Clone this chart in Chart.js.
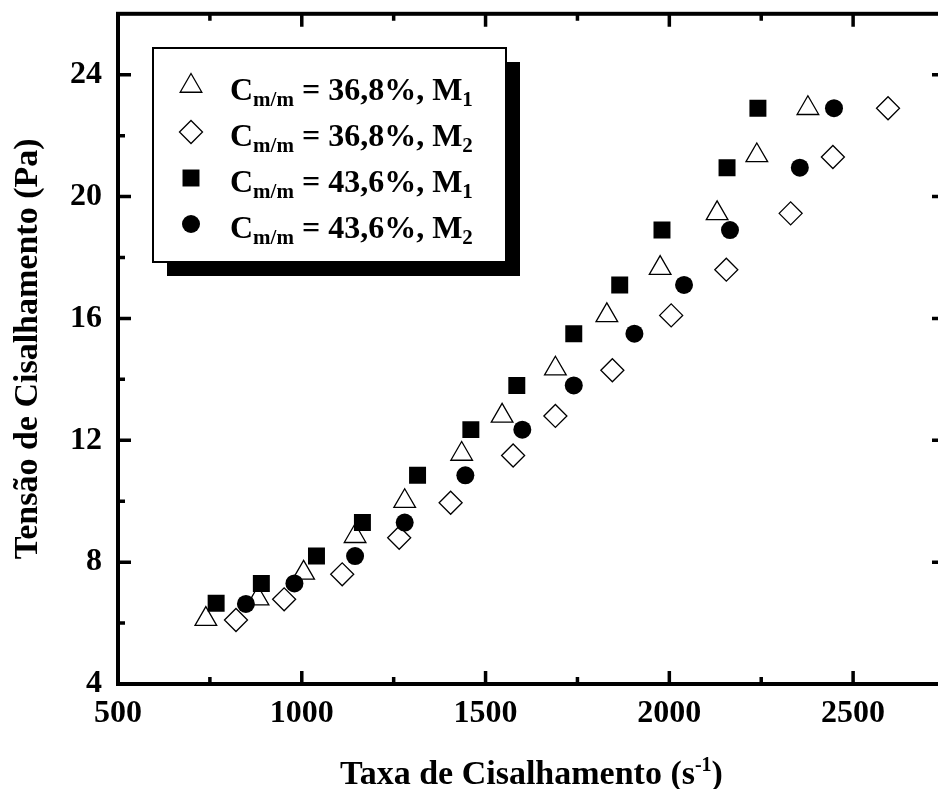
<!DOCTYPE html>
<html>
<head>
<meta charset="utf-8">
<script src="https://cdn.jsdelivr.net/npm/chart.js@4/dist/chart.umd.min.js"></script>
<style>
  html, body { margin: 0; padding: 0; background: #fff; overflow: hidden; }
  #wrap { position: relative; width: 960px; height: 789px; }
</style>
</head>
<body>
<div id="wrap"><canvas id="chart" width="960" height="789"></canvas></div>
<script>
// Shear rate (s-1) and shear stress (Pa)
const triX = [739, 881, 1005, 1145, 1280, 1435, 1545, 1690, 1830, 1975, 2130, 2238, 2377];
const triY = [6.13, 6.8, 7.65, 8.85, 10.0, 11.55, 12.8, 14.35, 16.1, 17.65, 19.45, 21.35, 22.9];
const diaX = [821, 952, 1110, 1265, 1405, 1575, 1690, 1845, 2005, 2155, 2330, 2445, 2595];
const diaY = [6.1, 6.78, 7.6, 8.8, 9.95, 11.5, 12.8, 14.3, 16.1, 17.6, 19.45, 21.3, 22.9];
const sqX = [767, 890, 1040, 1165, 1315, 1460, 1585, 1740, 1865, 1980, 2157, 2241];
const sqY = [6.65, 7.3, 8.2, 9.3, 10.85, 12.35, 13.8, 15.5, 17.1, 18.9, 20.95, 22.9];
const circX = [848, 980, 1145, 1280, 1445, 1600, 1740, 1905, 2040, 2165, 2355, 2448];
const circY = [6.63, 7.3, 8.2, 9.3, 10.85, 12.35, 13.8, 15.5, 17.1, 18.9, 20.95, 22.9];

const legendConc = ['36,8%', '36,8%', '43,6%', '43,6%'];
const legendMethod = ['1', '2', '1', '2'];

const xTicks = [500, 1000, 1500, 2000, 2500];
const xMinor = [750, 1250, 1750, 2250];
const yTicks = [4, 8, 12, 16, 20, 24];
const yMinor = [6, 10, 14, 18, 22];

const FONT = '"Liberation Serif", "Times New Roman", serif';

function pts(xs, ys) {
  return xs.map((v, i) => ({ x: v, y: ys[i] }));
}

const styles = [
  { pointStyle: 'triangle', radius: 12.5, fill: 'rgba(0,0,0,0)', border: 1.3 },
  { pointStyle: 'rectRot', radius: 11.5, fill: 'rgba(0,0,0,0)', border: 1.3 },
  { pointStyle: 'rect', radius: 12, fill: '#000', border: 0 },
  { pointStyle: 'circle', radius: 9, fill: '#000', border: 0 }
];
const series = [pts(triX, triY), pts(diaX, diaY), pts(sqX, sqY), pts(circX, circY)];

// draw text pieces one after another (for sub/superscripts)
function richWidth(ctx, parts) {
  let w = 0;
  parts.forEach(p => {
    ctx.font = 'bold ' + p.size + 'px ' + FONT;
    w += ctx.measureText(p.t).width;
  });
  return w;
}
function drawRich(ctx, parts, x, y) {
  parts.forEach(p => {
    ctx.font = 'bold ' + p.size + 'px ' + FONT;
    ctx.fillText(p.t, x, y + (p.dy || 0));
    x += ctx.measureText(p.t).width;
  });
}

const frameAndTicks = {
  id: 'frameAndTicks',
  beforeDatasetsDraw(chart) {
    const { ctx, chartArea: a, scales: { x, y } } = chart;
    ctx.save();
    ctx.strokeStyle = '#000';
    ctx.lineWidth = 4;
    ctx.strokeRect(a.left, a.top, a.right - a.left, a.bottom - a.top);

    ctx.lineWidth = 3.5;
    ctx.beginPath();
    const xt = (vals, len) => vals.forEach(v => {
      const px = x.getPixelForValue(v);
      ctx.moveTo(px, a.bottom); ctx.lineTo(px, a.bottom - len);
      ctx.moveTo(px, a.top); ctx.lineTo(px, a.top + len);
    });
    const yt = (vals, len) => vals.forEach(v => {
      const py = y.getPixelForValue(v);
      ctx.moveTo(a.left, py); ctx.lineTo(a.left + len, py);
      ctx.moveTo(a.right, py); ctx.lineTo(a.right - len, py);
    });
    xt(xTicks, 13); xt(xMinor, 7);
    yt(yTicks, 13); yt(yMinor, 7);
    ctx.stroke();
    ctx.restore();
  },
  afterDraw(chart) {
    const { ctx, chartArea: a } = chart;
    ctx.save();
    ctx.fillStyle = '#000';
    ctx.textBaseline = 'alphabetic';
    ctx.textAlign = 'left';

    // x title with superscript
    const xParts = [
      { t: 'Taxa de Cisalhamento (s', size: 34 },
      { t: '-1', size: 20, dy: -13 },
      { t: ')', size: 34 }
    ];
    const xw = richWidth(ctx, xParts);
    drawRich(ctx, xParts, (a.left + a.right) / 2 - xw / 2, 784);

    // y title
    ctx.save();
    ctx.translate(37, (a.top + a.bottom) / 2);
    ctx.rotate(-Math.PI / 2);
    ctx.textAlign = 'center';
    ctx.font = 'bold 34px ' + FONT;
    ctx.fillText('Tensão de Cisalhamento (Pa)', 0, 0);
    ctx.restore();

    // legend box with shadow
    const bx = 153, by = 48, bw = 353, bh = 214;
    ctx.fillStyle = '#000';
    ctx.fillRect(bx + 14, by + 14, bw, bh);
    ctx.fillStyle = '#fff';
    ctx.fillRect(bx, by, bw, bh);
    ctx.strokeStyle = '#000';
    ctx.lineWidth = 2;
    ctx.strokeRect(bx, by, bw, bh);

    const help = (window.Chart && Chart.helpers) || {};
    styles.forEach((s, i) => {
      const base = 100 + i * 46;
      ctx.fillStyle = s.fill;
      ctx.strokeStyle = '#000';
      ctx.lineWidth = s.border || 1;
      if (help.drawPoint) {
        help.drawPoint(ctx, { pointStyle: s.pointStyle, radius: s.radius, rotation: 0, borderWidth: s.border }, 191, base - 14);
      }
      ctx.fillStyle = '#000';
      drawRich(ctx, [
        { t: 'C', size: 32 },
        { t: 'm/m', size: 21, dy: 6 },
        { t: ' = ' + legendConc[i] + ', M', size: 32 },
        { t: legendMethod[i], size: 21, dy: 6 }
      ], 230, base);
    });
    ctx.restore();
  }
};

new Chart(document.getElementById('chart'), {
  type: 'scatter',
  data: {
    datasets: series.map((d, i) => ({
      data: d,
      pointStyle: styles[i].pointStyle,
      pointRadius: styles[i].radius,
      pointHoverRadius: styles[i].radius,
      pointBackgroundColor: styles[i].fill,
      pointBorderColor: '#000',
      pointBorderWidth: styles[i].border,
      showLine: false
    }))
  },
  options: {
    responsive: false,
    devicePixelRatio: 1,
    animation: false,
    layout: { padding: { left: 0, top: 13, right: 15, bottom: 0 } },
    plugins: { legend: { display: false }, tooltip: { enabled: false } },
    scales: {
      x: {
        type: 'linear',
        min: 500,
        max: 2750,
        grid: { display: false, drawTicks: false },
        border: { display: false },
        ticks: {
          color: '#000',
          padding: 11,
          maxRotation: 0,
          font: { family: FONT, size: 32, weight: 'bold' },
          callback: v => String(v)
        },
        afterBuildTicks: s => { s.ticks = xTicks.map(v => ({ value: v })); },
        afterFit: s => { s.height = 105; s.paddingLeft = 0; s.paddingRight = 0; }
      },
      y: {
        type: 'linear',
        min: 4,
        max: 26,
        grid: { display: false, drawTicks: false },
        border: { display: false },
        ticks: {
          color: '#000',
          padding: 16,
          font: { family: FONT, size: 32, weight: 'bold' },
          callback: v => String(v)
        },
        afterBuildTicks: s => { s.ticks = yTicks.map(v => ({ value: v })); },
        afterFit: s => { s.width = 118; s.paddingTop = 0; s.paddingBottom = 0; }
      }
    }
  },
  plugins: [frameAndTicks]
});
</script>
</body>
</html>
